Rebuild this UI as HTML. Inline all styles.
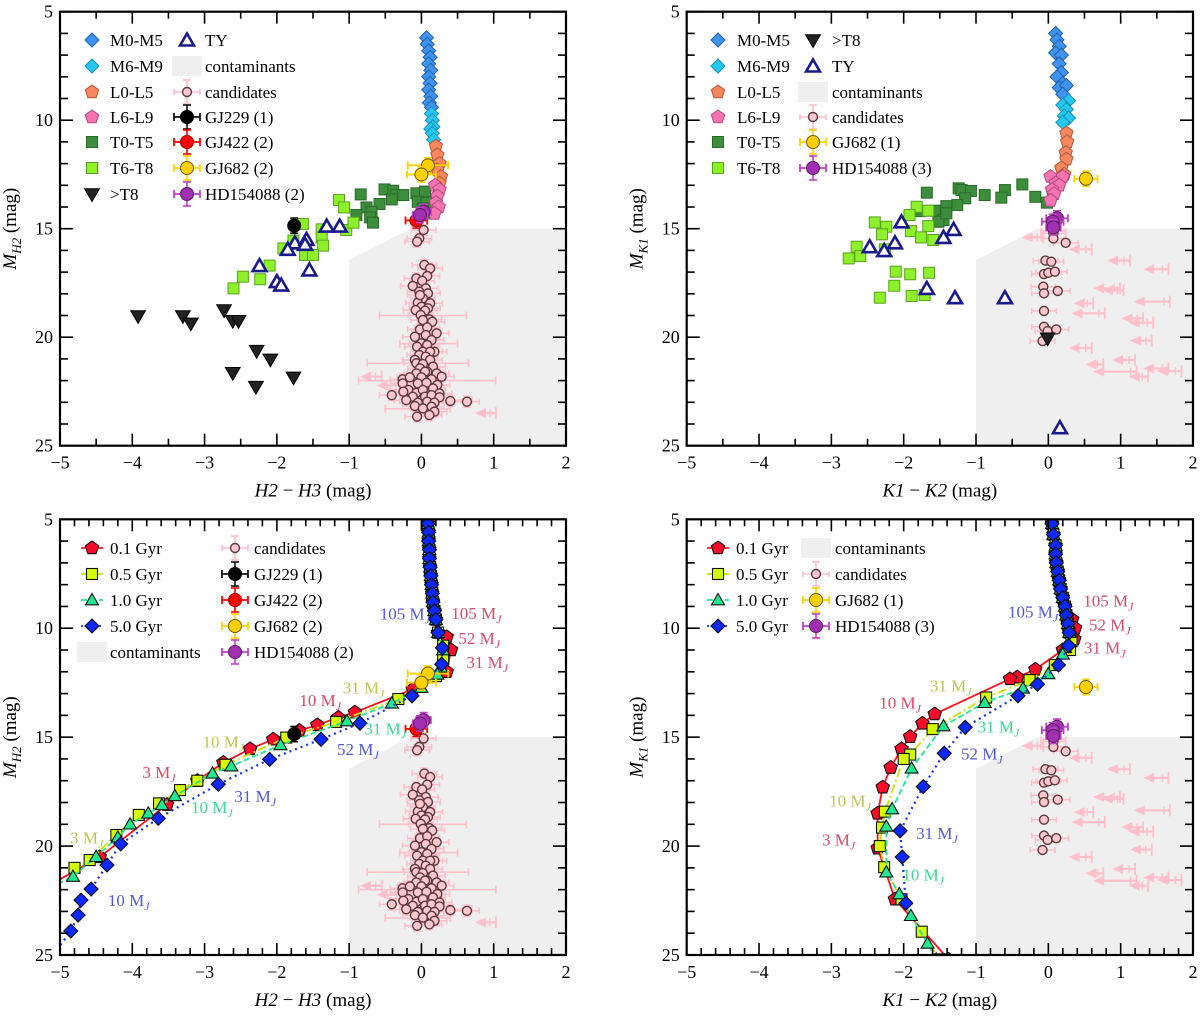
<!DOCTYPE html>
<html><head><meta charset="utf-8"><style>
html,body{margin:0;padding:0;background:#fff}
svg, svg text{font-family:"Liberation Serif","DejaVu Serif",serif}
</style></head><body>
<svg id="fig" width="1200" height="1013" viewBox="0 0 1200 1013" xmlns="http://www.w3.org/2000/svg" font-family="Liberation Serif, DejaVu Serif, serif"></svg>
<script>
// ---------- data (mag units) ----------
const contamX=[-1,-1,-0.15,2,2];
const contamY=[25,16.45,15,15,25];
// top-left (H2-H3)
const tlM05=[[0.07,6.2],[0.08,6.5],[0.1,6.8],[0.12,7.1],[0.1,7.4],[0.13,7.7],[0.1,8.0],[0.12,8.3],[0.1,8.6],[0.13,8.9],[0.11,9.2],[0.14,9.4]];
const tlM69=[[0.14,9.7],[0.15,10.0],[0.16,10.3],[0.13,10.4],[0.15,10.6],[0.17,10.9]];
const tlL05=[[0.2,11.2],[0.22,11.6],[0.25,12.0],[0.22,12.3],[0.27,12.6],[0.25,12.9]];
const tlL69=[[0.19,13.0],[0.25,13.2],[0.22,13.5],[0.2,13.8],[0.24,14.0],[0.18,14.3]];
const tlT05=[[-0.84,13.42],[-0.51,13.19],[-0.39,13.25],[-0.35,13.45],[-0.25,13.45],[-0.41,13.65],[-0.07,13.37],[0.05,13.29],[-0.05,13.76],[0.07,13.8],[-0.58,13.86],[-0.76,14.02],[-0.69,14.22],[-0.9,14.37],[-0.71,14.48],[-0.67,14.72],[0.15,14.29],[0.02,14.06]];
const tlT68=[[-1.14,13.68],[-1.07,14.02],[-1.64,14.78],[-1.38,15.03],[-1.04,15.06],[-0.94,14.72],[-1.38,15.4],[-1.36,15.78],[-1.91,15.91],[-1.61,16.21],[-1.5,16.21],[-2.1,16.7],[-2.47,17.21],[-2.23,17.33],[-2.6,17.75],[-1.77,15.55]];
const tlGT8=[[-3.92,19.02],[-3.3,19.02],[-3.19,19.36],[-2.73,18.75],[-2.61,19.24],[-2.53,19.24],[-2.28,20.62],[-2.09,21.02],[-2.61,21.64],[-2.29,22.28],[-1.77,21.85]];
const tlTY=[[-1.31,14.88],[-1.13,14.88],[-1.75,15.65],[-1.59,15.49],[-1.61,15.72],[-1.85,15.95],[-2.24,16.7],[-2.0,17.44],[-1.94,17.6],[-1.55,16.9]];
const tlCand=[[0.03,15.06],[-0.03,15.45],[-0.06,15.6],[0.04,16.67],[0.12,16.83],[0.08,17.18],[-0.07,17.29],[0.01,17.4],[-0.12,17.64],[0.06,17.75],[-0.03,17.9],[0.09,17.98],[0.02,18.21],[0.12,18.44],[-0.05,18.41],[-0.02,18.06],[0,18.6],[0.09,18.67],[-0.08,18.75],[0.05,18.78],[-0.01,18.98],[0.11,19.18],[0.02,19.21],[0.15,19.29],[-0.02,19.64],[0.08,19.55],[0.21,19.82],[-0.09,19.98],[0.06,19.9],[0.14,20.13],[0,20.28],[-0.06,20.44],[0.08,20.36],[0.18,20.67],[0.02,20.67],[0.12,20.67],[-0.03,20.82],[0.06,20.9],[-0.09,21.05],[0.12,21.05],[-0.07,21.2],[0.02,21.24],[-0.02,21.44],[0.16,21.36],[-0.07,21.67],[0.08,21.59],[0.05,21.59],[0.21,21.67],[-0.26,21.94],[-0.16,21.85],[0,21.85],[0.14,21.94],[0.28,21.82],[-0.26,22.13],[-0.05,22.13],[0.07,22.1],[0.22,22.2],[-0.41,22.67],[-0.18,22.43],[-0.07,22.56],[0.02,22.43],[0.16,22.36],[0.25,22.59],[-0.25,22.51],[-0.12,22.74],[0.05,22.74],[0.14,22.67],[0.25,22.77],[-0.21,22.9],[-0.05,23.02],[0.08,22.97],[0.18,23.02],[0.4,22.94],[0.63,22.97],[-0.09,23.17],[0.02,23.28],[0.14,23.2],[0.18,23.43],[-0.06,23.66],[0.11,23.59]];
const tlWideErr=[[0.02,19.0,0.6],[-0.05,21.2,0.7],[0.08,22.0,0.95],[0.1,20.3,0.4],[0.2,22.9,0.5],[-0.05,23.3,0.45]];
const tlArrows=[[-0.85,-0.55,21.82],[-0.62,-0.35,22.23],[0.74,1.03,23.5]];
const tlGJ229=[[-1.76,14.86,0.07]];
const tlGJ422=[[-0.07,14.62,0.15]];
const tlGJ682=[[0.09,12.08,0.28],[0,12.5,0.2]];
const tlHD=[[0.03,14.22,0.1],[-0.02,14.37,0.1]];
// top-right (K1-K2)
const trM05=[[0.1,6.0],[0.12,6.3],[0.15,6.6],[0.1,6.9],[0.18,7.0],[0.15,7.4],[0.18,7.8],[0.12,8.0],[0.2,8.3],[0.15,8.5],[0.25,8.4],[0.2,8.8]];
const trM69=[[0.28,9.1],[0.2,9.3],[0.25,9.5],[0.22,9.8],[0.28,9.9],[0.2,10.1]];
const trL05=[[0.25,10.6],[0.26,11.0],[0.24,11.5],[0.25,11.8],[0.18,12.2],[0.22,12.5]];
const trL69=[[0.03,12.6],[0.2,12.6],[0.1,12.9],[0.15,13.0],[0.05,13.2],[0.08,13.4],[0.03,13.7]];
const trT05=[[-1.68,13.34],[-1.24,13.14],[-1.2,13.22],[-1.07,13.26],[-0.88,13.45],[-0.6,13.22],[-0.65,13.57],[-0.36,12.96],[-0.18,13.53],[-0.02,13.8],[-1.15,13.6],[-1.26,13.91],[-1.41,13.96],[-1.57,14.17],[-1.77,14.19],[-1.45,14.6],[-1.52,14.68],[-1.41,14.29]];
const trT68=[[-1.82,13.99],[-1.66,14.17],[-1.92,14.37],[-2.4,14.71],[-2.24,14.91],[-2.3,15.26],[-1.9,15.11],[-1.76,15.4],[-1.66,14.88],[-1.59,15.52],[-2.65,15.83],[-2.6,16.26],[-2.76,16.37],[-2.26,15.95],[-2.11,16.98],[-1.91,17.1],[-1.65,17.03],[-2.13,17.63],[-2.33,18.18],[-1.89,18.1],[-1.71,18.06]];
const trGT8=[[-0.01,20.05]];
const trTY=[[-2.03,14.68],[-2.47,15.83],[-2.27,16.01],[-2.12,15.65],[-1.45,15.4],[-1.31,15.03],[-1.68,17.75],[-1.29,18.18],[-0.6,18.18],[0.16,24.17]];
const trCand=[[0.07,15.1],[0.07,15.21],[0.07,15.45],[0.24,15.65],[-0.04,16.47],[0.04,16.52],[-0.06,17.09],[0,17.03],[0.09,16.98],[-0.07,17.67],[-0.06,17.98],[0.13,17.87],[-0.06,18.79],[-0.06,19.52],[-0.01,19.72],[0.11,19.64],[-0.08,20.18]];
const trArrows=[[-0.37,-0.07,15.4],[0.28,0.6,15.95],[0.81,1.13,16.47],[1.31,1.66,16.87],[0.62,0.99,17.75],[0.74,1.04,17.83],[0.35,0.62,18.44],[0.32,0.78,18.9],[1.18,1.68,18.36],[1.01,1.31,19.13],[1.11,1.45,19.33],[1.13,1.43,20.16],[0.28,0.6,20.5],[0.51,0.76,21.25],[0.88,1.2,21.05],[0.62,1.22,21.59],[1.11,1.38,21.82],[1.31,1.66,21.44],[1.5,1.84,21.56]];
const trGJ682=[[0.52,12.7,0.16]];
const trHD=[[0.12,14.52,0.15],[0.06,14.68,0.15],[0.07,14.94,0.1]];
// bottom-left models (H2-H3)
const blUpper=[[0.09,5.2],[0.1,5.6],[0.1,6.0],[0.11,6.4],[0.11,6.8],[0.12,7.2],[0.13,7.6],[0.14,8.0],[0.15,8.4],[0.16,8.8],[0.18,9.2],[0.2,9.6],[0.23,10.2]];
const bl01=[[0.35,10.4],[0.41,11.0],[0.35,12.0],[-0.12,12.8],[-0.92,13.86],[-1.15,14.1],[-1.44,14.44],[-1.69,14.7],[-2.05,15.1],[-2.37,15.54],[-2.74,16.17],[-3.1,17.0],[-3.52,18.1],[-4.45,20.5],[-5.2,21.9]];
const bl05=[[0.3,10.8],[0.3,11.4],[0.2,12.2],[-0.32,13.25],[-1.18,14.3],[-1.87,15.02],[-2.71,16.27],[-3.1,17.0],[-3.34,17.43],[-3.63,18.04],[-3.91,18.57],[-4.22,19.49],[-4.59,20.64],[-4.8,21.0]];
const bl10=[[0.3,11.0],[0.27,11.8],[0.22,12.12],[0,12.73],[-0.41,13.45],[-1.03,14.26],[-1.95,15.36],[-2.63,16.33],[-2.89,16.66],[-3.41,17.7],[-3.59,18.11],[-3.78,18.5],[-4.03,19.0],[-4.2,19.6],[-4.5,20.49],[-4.82,21.4],[-5.2,22.0]];
const bl50=[[0.29,10.9],[0.28,11.65],[-0.13,13.1],[-0.85,14.36],[-1.39,15.1],[-2.1,16.02],[-2.81,17.16],[-3.64,18.73],[-4.16,19.9],[-4.35,20.87],[-4.57,21.97],[-4.71,22.48],[-4.75,23.17],[-4.85,23.9],[-5.1,25.0]];
const blLabels=[["105",-0.23,9.33,"b"],["105",0.76,9.3,"r"],["52",0.8,10.46,"r"],["31",0.91,11.55,"r"],["31",-0.8,12.73,"y"],["10",-1.4,13.3,"r"],["31",-0.5,14.6,"g"],["52",-0.88,15.55,"b"],["10",-2.74,15.2,"y"],["3",-3.63,16.6,"r"],["31",-2.3,17.7,"b"],["10",-2.9,18.2,"g"],["3",-4.63,19.6,"y"],["10",-4.05,22.47,"b"]];
// bottom-right models (K1-K2)
const brUpper=[[0.05,5.2],[0.07,5.7],[0.1,6.2],[0.1,6.6],[0.11,7.0],[0.13,7.4],[0.15,7.8],[0.17,8.2],[0.2,8.6],[0.23,9.0],[0.25,9.4],[0.27,9.8],[0.29,10.2]];
const br01=[[0.33,9.6],[0.37,10.0],[0.36,10.5],[0.2,11.0],[-0.18,11.89],[-0.43,12.25],[-0.53,12.33],[-1.57,13.94],[-1.74,14.37],[-1.91,14.98],[-2.03,15.54],[-2.18,16.4],[-2.29,17.3],[-2.36,18.5],[-2.36,20.1],[-2.12,22.44],[-1.38,25.2]];
const br05=[[0.32,10.6],[0.3,11.0],[0.09,11.69],[-0.26,12.38],[-0.86,13.18],[-1.6,14.63],[-1.91,15.8],[-2.0,16.0],[-2.26,18.42],[-2.3,19.15],[-2.33,20.0],[-2.27,20.97],[-2.03,22.44],[-1.75,23.93],[-1.5,25.2]];
const br10=[[0.23,10.9],[0.2,11.2],[0,12.1],[-0.35,12.76],[-0.88,13.42],[-1.45,14.49],[-1.89,16.43],[-2.16,18.3],[-2.24,19.1],[-2.24,21.2],[-2.06,22.2],[-1.9,23.2],[-1.67,24.47],[-1.55,25.2]];
const br50=[[0.28,10.8],[0.14,11.69],[-0.15,12.57],[-0.42,13.1],[-1.15,14.55],[-1.44,15.74],[-1.73,17.27],[-2.05,19.3],[-2.02,20.5],[-1.97,22.62]];
const brLabels=[["105",0.83,8.73,"r"],["105",-0.21,9.24,"b"],["52",0.85,9.82,"r"],["31",0.78,10.89,"r"],["31",-1.35,12.62,"y"],["10",-2.05,13.4,"r"],["31",-0.69,14.5,"g"],["52",-0.92,15.75,"b"],["10",-2.74,17.9,"y"],["31",-1.54,19.4,"b"],["3",-2.9,19.7,"r"],["10",-1.73,21.3,"g"]];
const xTicks=[-5,-4,-3,-2,-1,0,1,2];
const yTicks=[5,10,15,20,25];

// ---------- layout ----------
const NS="http://www.w3.org/2000/svg";
const FONT='"Liberation Serif","DejaVu Serif",serif';
const svg=document.getElementById('fig');
const P={tl:{x0:60,x1:566,y0:11.7,y1:445.7,n:'tl'},tr:{x0:686.7,x1:1193,y0:11.7,y1:445.7,n:'tr'},bl:{x0:60,x1:566,y0:519.3,y1:955,n:'bl'},br:{x0:686.7,x1:1193,y0:519.3,y1:955,n:'br'}};
function sx(p,v){return p.x0+(v+5)/7*(p.x1-p.x0);}
function sy(p,v){return p.y0+(v-5)/20*(p.y1-p.y0);}
function mk(tag,a,parent){const e=document.createElementNS(NS,tag);for(const k in a)e.setAttribute(k,a[k]);if(tag==='text')e.style.fontFamily=FONT;(parent||svg).appendChild(e);return e;}
function poly(cx,cy,r,n,rot){const pts=[];for(let i=0;i<n;i++){const a=rot+i*2*Math.PI/n;pts.push((cx+r*Math.cos(a)).toFixed(1)+','+(cy+r*Math.sin(a)).toFixed(1));}return pts.join(' ');}
function marker(g,shape,cx,cy,fill,stroke,name,sw){
  let e;
  if(shape==='diamond')e=mk('polygon',{points:poly(cx,cy,7,4,-Math.PI/2),fill:fill,stroke:stroke,'stroke-width':sw||1},g);
  else if(shape==='pent')e=mk('polygon',{points:poly(cx,cy,7,5,-Math.PI/2),fill:fill,stroke:stroke,'stroke-width':sw||1},g);
  else if(shape==='square')e=mk('rect',{x:cx-5.5,y:cy-5.5,width:11,height:11,fill:fill,stroke:stroke,'stroke-width':sw||1},g);
  else if(shape==='tridown')e=mk('polygon',{points:poly(cx,cy-1,8.5,3,Math.PI/2),fill:fill,stroke:stroke,'stroke-width':sw||1},g);
  else if(shape==='triup')e=mk('polygon',{points:poly(cx,cy+1,7.5,3,-Math.PI/2),fill:fill,stroke:stroke,'stroke-width':sw||1},g);
  else if(shape==='ty')e=mk('polygon',{points:poly(cx,cy+1.5,8,3,-Math.PI/2),fill:'#fff',stroke:'#1a1a8c','stroke-width':2.6},g);
  else if(shape==='cand')e=mk('circle',{cx:cx,cy:cy,r:4.5,fill:'#fcc7cf',stroke:'#5a3a3a','stroke-width':1.4},g);
  else e=mk('circle',{cx:cx,cy:cy,r:6.5,fill:fill,stroke:stroke,'stroke-width':sw||1},g);
  
  
  return e;
}
function errbar(g,x1,x2,y,col,h,w){
  mk('line',{x1:x1,x2:x2,y1:y,y2:y,stroke:col,'stroke-width':w||1.6},g);
  mk('line',{x1:x1,x2:x1,y1:y-h,y2:y+h,stroke:col,'stroke-width':w||1.6},g);
  mk('line',{x1:x2,x2:x2,y1:y-h,y2:y+h,stroke:col,'stroke-width':w||1.6},g);
}
function vbar(g,x,y1,y2,col){
  mk('line',{x1:x,x2:x,y1:y1,y2:y2,stroke:col,'stroke-width':1.6},g);
  mk('line',{x1:x-4,x2:x+4,y1:y1,y2:y1,stroke:col,'stroke-width':1.6},g);
  mk('line',{x1:x-4,x2:x+4,y1:y2,y2:y2,stroke:col,'stroke-width':1.6},g);
}
function panelGroup(p){
  const cp=mk('clipPath',{id:'clip-'+p.n});
  mk('rect',{x:p.x0,y:p.y0,width:p.x1-p.x0,height:p.y1-p.y0},cp);
  const g=mk('g',{'clip-path':'url(#clip-'+p.n+')'});
  
  
  const pts=contamX.map((x,i)=>sx(p,x)+','+sy(p,contamY[i])).join(' ');
  const c=mk('polygon',{points:pts,fill:'#efefef'},g);
  
  
  return g;
}
function drawCands(p,g,cands,wide,arrows,k2){
  cands.forEach(d=>errbar(g,sx(p,d[0]-0.17),sx(p,d[0]+0.17),sy(p,d[1]),'#ffc0cb',3));
  if(!k2)cands.forEach(d=>vbar(g,sx(p,d[0]),sy(p,d[1]-0.25),sy(p,d[1]+0.25),'#ffc0cb'));
  wide.forEach(d=>errbar(g,sx(p,d[0]-d[2]),sx(p,d[0]+d[2]),sy(p,d[1]),'#ffc0cb',4));
  arrows.forEach(d=>{
    const y=sy(p,d[2]),xh=sx(p,d[0]),xt=sx(p,d[1]);
    const a=mk('g',{},g);
    
    
    mk('line',{x1:xh+6,x2:xt,y1:y,y2:y,stroke:'#ffc0cb','stroke-width':2.2},a);
    mk('line',{x1:xt,x2:xt,y1:y-6,y2:y+6,stroke:'#ffc0cb','stroke-width':1.8},a);
    mk('line',{x1:xt-6,x2:xt-6,y1:y-4,y2:y+4,stroke:'#ffc0cb','stroke-width':1.5},a);
    mk('polygon',{points:`${xh},${y} ${xh+11},${y-5} ${xh+11},${y+5}`,fill:'#ffc0cb'},a);
  });
  cands.forEach(d=>marker(g,'cand',sx(p,d[0]),sy(p,d[1]),'','','candidate-point'));
}
function drawRef(p,g,arr,fill,stroke,col,name){
  arr.forEach(d=>{
    errbar(g,sx(p,d[0]-d[2]),sx(p,d[0]+d[2]),sy(p,d[1]),col,4,1.8);
    vbar(g,sx(p,d[0]),sy(p,d[1]-0.35),sy(p,d[1]+0.35),col);
    marker(g,'circle',sx(p,d[0]),sy(p,d[1]),fill,stroke,name);
  });
}
function drawSet(p,g,arr,shape,fill,stroke,name){arr.forEach(d=>marker(g,shape,sx(p,d[0]),sy(p,d[1]),fill,stroke,name));}
function axes(p,xlab,ylab,minorStep){
  const fr=mk('rect',{x:p.x0,y:p.y0,width:p.x1-p.x0,height:p.y1-p.y0,fill:'none',stroke:'#000','stroke-width':2.2});
  
  
  const g=mk('g',{stroke:'#000','stroke-width':1.6});
  
  
  for(let i=0;i<=Math.round(7/minorStep);i++){
    const v=-5+i*minorStep,x=sx(p,v),maj=Math.abs(v-Math.round(v))<1e-6,L=maj?12:7;
    mk('line',{x1:x,x2:x,y1:p.y1,y2:p.y1-L},g);mk('line',{x1:x,x2:x,y1:p.y0,y2:p.y0+L},g);
  }
  for(let v=5;v<=25;v++){
    const y=sy(p,v),L=(v%5===0)?13:8;
    mk('line',{x1:p.x0,x2:p.x0+L,y1:y,y2:y},g);mk('line',{x1:p.x1,x2:p.x1-L,y1:y,y2:y},g);
  }
  xTicks.forEach(v=>{
    const t=mk('text',{x:sx(p,v),y:p.y1+23,'text-anchor':'middle','font-size':18});
    t.textContent=v<0?'\u2212'+(-v):String(v);
    
    
  });
  yTicks.forEach(v=>{
    const t=mk('text',{x:p.x0-7,y:sy(p,v)+6,'text-anchor':'end','font-size':18});
    t.textContent=String(v);
    
    
  });
  const xl=mk('text',{x:(p.x0+p.x1)/2,y:p.y1+51,'text-anchor':'middle','font-size':19});
  xl.innerHTML=`<tspan font-style="italic">${xlab[0]}</tspan> \u2212 <tspan font-style="italic">${xlab[1]}</tspan> (mag)`;
  
  
  const cy=(p.y0+p.y1)/2,cx=p.x0-44;
  const yl=mk('text',{x:cx,y:cy,'text-anchor':'middle','font-size':19,transform:`rotate(-90 ${cx} ${cy})`});
  yl.innerHTML=`<tspan font-style="italic">M</tspan><tspan font-style="italic" font-size="13" dy="5">${ylab}</tspan><tspan dy="-5"> (mag)</tspan>`;
  
  
}
function legendText(x,y,s){
  const t=mk('text',{x:x,y:y+6,'font-size':17});
  t.textContent=s;
  
  
}
function legendRef(lg,x,y,fill,stroke,col){
  errbar(lg,x-13,x+13,y,col,4,1.8);vbar(lg,x,y-12,y+12,col);marker(lg,'circle',x,y,fill,stroke,'legend-marker');
}
function legendCand(lg,x,y){errbar(lg,x-13,x+13,y,'#ffc0cb',3);vbar(lg,x,y-12,y+12,'#ffc0cb');marker(lg,'cand',x,y,'','','legend-marker');}
function legendContam(lg,x,y){const r=mk('rect',{x:x-15,y:y-10,width:30,height:20,fill:'#efefef'},lg);}

const C={m05:['#3f93ee','#2060a8'],m69:['#25c8f2','#1a8fb0'],l05:['#f6875f','#b05a3a'],l69:['#f674b2','#b04a80'],t05:['#3c8d3c','#2a6a2a'],t68:['#8cf02a','#5aa020']};
const LC={r:'#d84a68',y:'#b8c850',g:'#3cd890',b:'#4f58e0'};

// ---------- top panels ----------
function topPanel(p,d,k2){
  const g=panelGroup(p);
  drawCands(p,g,d.cand,d.wide,d.arrows,k2);
  drawSet(p,g,d.t05,'square',C.t05[0],C.t05[1],'t0-t5-point');
  drawSet(p,g,d.t68,'square',C.t68[0],C.t68[1],'t6-t8-point');
  drawSet(p,g,d.m05,'diamond',C.m05[0],C.m05[1],'m0-m5-point');
  drawSet(p,g,d.m69,'diamond',C.m69[0],C.m69[1],'m6-m9-point');
  drawSet(p,g,d.l05,'pent',C.l05[0],C.l05[1],'l0-l5-point');
  drawSet(p,g,d.l69,'pent',C.l69[0],C.l69[1],'l6-l9-point');
  drawSet(p,g,d.gt8,'tridown','#222','#000','gt-t8-point');
  drawSet(p,g,d.ty,'ty','','','ty-point');
  if(d.gj229)drawRef(p,g,d.gj229,'#000','#000','#111','gj229-point');
  if(d.gj422)drawRef(p,g,d.gj422,'#f00','#900','#f00','gj422-point');
  drawRef(p,g,d.gj682,'#ffd000','#6a5a00','#ffd000','gj682-point');
  drawRef(p,g,d.hd,'#a030b0','#5a1a60','#c040c8','hd154088-point');
}
topPanel(P.tl,{cand:tlCand,wide:tlWideErr,arrows:tlArrows,t05:tlT05,t68:tlT68,m05:tlM05,m69:tlM69,l05:tlL05,l69:tlL69,gt8:tlGT8,ty:tlTY,gj229:tlGJ229,gj422:tlGJ422,gj682:tlGJ682,hd:tlHD},false);
topPanel(P.tr,{cand:trCand,wide:[],arrows:trArrows,t05:trT05,t68:trT68,m05:trM05,m69:trM69,l05:trL05,l69:trL69,gt8:trGT8,ty:trTY,gj682:trGJ682,hd:trHD},true);

// ---------- bottom panels ----------
function modelSeries(p,g,upper,pts,shape,fill,dash,col,name,sw){
  const all=upper.concat(pts);
  const path=mk('polyline',{points:all.map(d=>sx(p,d[0])+','+sy(p,d[1])).join(' '),fill:'none',stroke:col,'stroke-width':sw,'stroke-dasharray':dash},g);
  
  
  all.forEach(d=>marker(g,shape,sx(p,d[0]),sy(p,d[1]),fill,'#111',name+'-point',1.1));
}
function massLabels(p,g,labels){
  labels.forEach(l=>{
    const t=mk('text',{x:sx(p,l[1]),y:sy(p,l[2])+6,'text-anchor':'middle','font-size':17,fill:LC[l[3]]},g);
    t.innerHTML=l[0]+' M<tspan font-style="italic" font-size="12" dy="4">J</tspan>';
    
    
  });
}
function bottomPanel(p,m,k2){
  const g=panelGroup(p);
  drawCands(p,g,m.cand,m.wide,m.arrows,k2);
  modelSeries(p,g,m.upper,m.s01,'pent','#ff0a2a','','#ff1020','model-0.1gyr',1.8);
  modelSeries(p,g,m.upper,m.s05,'square','#d4ff00','9,3,2,3','#c8e000','model-0.5gyr',1.8);
  modelSeries(p,g,m.upper,m.s10,'triup','#20e890','6,3','#20e890','model-1.0gyr',1.8);
  modelSeries(p,g,m.upper,m.s50,'diamond','#0a28ff','2,4','#1030ff','model-5.0gyr',2.2);
  if(m.gj229)drawRef(p,g,m.gj229,'#000','#000','#111','gj229-point');
  if(m.gj422)drawRef(p,g,m.gj422,'#f00','#900','#f00','gj422-point');
  drawRef(p,g,m.gj682,'#ffd000','#6a5a00','#ffd000','gj682-point');
  drawRef(p,g,m.hd,'#a030b0','#5a1a60','#c040c8','hd154088-point');
  massLabels(p,g,m.labels);
}
bottomPanel(P.bl,{cand:tlCand,wide:tlWideErr,arrows:tlArrows,upper:blUpper,s01:bl01,s05:bl05,s10:bl10,s50:bl50,gj229:tlGJ229,gj422:tlGJ422,gj682:tlGJ682,hd:tlHD,labels:blLabels},false);
bottomPanel(P.br,{cand:trCand,wide:[],arrows:trArrows,upper:brUpper,s01:br01,s05:br05,s10:br10,s50:br50,gj682:trGJ682,hd:trHD,labels:brLabels},true);

axes(P.tl,['H2','H3'],'H2',0.5);
axes(P.tr,['K1','K2'],'K1',0.5);
axes(P.bl,['H2','H3'],'H2',0.2);
axes(P.br,['K1','K2'],'K1',0.2);

// ---------- legends ----------
const rows=[40,66,92,117,142,168,194];
(function(){
  const lg=mk('g',{});
  const a=92,b=187;
  marker(lg,'diamond',a,rows[0],C.m05[0],C.m05[1],'legend-marker');legendText(110,rows[0],'M0-M5');
  marker(lg,'diamond',a,rows[1],C.m69[0],C.m69[1],'legend-marker');legendText(110,rows[1],'M6-M9');
  marker(lg,'pent',a,rows[2],C.l05[0],C.l05[1],'legend-marker');legendText(110,rows[2],'L0-L5');
  marker(lg,'pent',a,rows[3],C.l69[0],C.l69[1],'legend-marker');legendText(110,rows[3],'L6-L9');
  marker(lg,'square',a,rows[4],C.t05[0],C.t05[1],'legend-marker');legendText(110,rows[4],'T0-T5');
  marker(lg,'square',a,rows[5],C.t68[0],C.t68[1],'legend-marker');legendText(110,rows[5],'T6-T8');
  marker(lg,'tridown',a,rows[6],'#222','#000','legend-marker');legendText(110,rows[6],'>T8');
  marker(lg,'ty',b,rows[0],'','','legend-marker');legendText(205,rows[0],'TY');
  legendContam(lg,b,rows[1]);legendText(205,rows[1],'contaminants');
  legendCand(lg,b,rows[2]);legendText(205,rows[2],'candidates');
  legendRef(lg,b,rows[3],'#000','#000','#111');legendText(205,rows[3],'GJ229 (1)');
  legendRef(lg,b,rows[4],'#f00','#900','#f00');legendText(205,rows[4],'GJ422 (2)');
  legendRef(lg,b,rows[5],'#ffd000','#6a5a00','#ffd000');legendText(205,rows[5],'GJ682 (2)');
  legendRef(lg,b,rows[6],'#a030b0','#5a1a60','#c040c8');legendText(205,rows[6],'HD154088 (2)');
})();
(function(){
  const lg=mk('g',{});
  const a=718,b=813,ta=737,tb=832;
  marker(lg,'diamond',a,rows[0],C.m05[0],C.m05[1],'legend-marker');legendText(ta,rows[0],'M0-M5');
  marker(lg,'diamond',a,rows[1],C.m69[0],C.m69[1],'legend-marker');legendText(ta,rows[1],'M6-M9');
  marker(lg,'pent',a,rows[2],C.l05[0],C.l05[1],'legend-marker');legendText(ta,rows[2],'L0-L5');
  marker(lg,'pent',a,rows[3],C.l69[0],C.l69[1],'legend-marker');legendText(ta,rows[3],'L6-L9');
  marker(lg,'square',a,rows[4],C.t05[0],C.t05[1],'legend-marker');legendText(ta,rows[4],'T0-T5');
  marker(lg,'square',a,rows[5],C.t68[0],C.t68[1],'legend-marker');legendText(ta,rows[5],'T6-T8');
  marker(lg,'tridown',b,rows[0],'#222','#000','legend-marker');legendText(tb,rows[0],'>T8');
  marker(lg,'ty',b,rows[1],'','','legend-marker');legendText(tb,rows[1],'TY');
  legendContam(lg,b,rows[2]);legendText(tb,rows[2],'contaminants');
  legendCand(lg,b,rows[3]);legendText(tb,rows[3],'candidates');
  legendRef(lg,b,rows[4],'#ffd000','#6a5a00','#ffd000');legendText(tb,rows[4],'GJ682 (1)');
  legendRef(lg,b,rows[5],'#a030b0','#5a1a60','#c040c8');legendText(tb,rows[5],'HD154088 (3)');
})();
function modelLegend(lg,x,y){
  const defs=[['pent','#ff0a2a','','#ff1020','0.1 Gyr'],['square','#d4ff00','9,3,2,3','#c8e000','0.5 Gyr'],['triup','#20e890','6,3','#20e890','1.0 Gyr'],['diamond','#0a28ff','2,4','#1030ff','5.0 Gyr']];
  defs.forEach((d,i)=>{
    const yy=y[i];
    mk('line',{x1:x-11,x2:x+11,y1:yy,y2:yy,stroke:d[3],'stroke-width':1.8,'stroke-dasharray':d[2]},lg);
    marker(lg,d[0],x,yy,d[1],'#111','legend-marker',1.1);
    legendText(x+18,yy,d[4]);
  });
}
const brow=[548,574,600,626,652];
(function(){
  const lg=mk('g',{});
  modelLegend(lg,92,brow);
  legendContam(lg,92,brow[4]);legendText(110,brow[4],'contaminants');
  const b=235,tb=254;
  legendCand(lg,b,brow[0]);legendText(tb,brow[0],'candidates');
  legendRef(lg,b,brow[1],'#000','#000','#111');legendText(tb,brow[1],'GJ229 (1)');
  legendRef(lg,b,brow[2],'#f00','#900','#f00');legendText(tb,brow[2],'GJ422 (2)');
  legendRef(lg,b,brow[3],'#ffd000','#6a5a00','#ffd000');legendText(tb,brow[3],'GJ682 (2)');
  legendRef(lg,b,brow[4],'#a030b0','#5a1a60','#c040c8');legendText(tb,brow[4],'HD154088 (2)');
})();
(function(){
  const lg=mk('g',{});
  modelLegend(lg,718,brow);
  const b=816,tb=835;
  legendContam(lg,b,brow[0]);legendText(tb,brow[0],'contaminants');
  legendCand(lg,b,brow[1]);legendText(tb,brow[1],'candidates');
  legendRef(lg,b,brow[2],'#ffd000','#6a5a00','#ffd000');legendText(tb,brow[2],'GJ682 (1)');
  legendRef(lg,b,brow[3],'#a030b0','#5a1a60','#c040c8');legendText(tb,brow[3],'HD154088 (3)');
})();
</script>
</body></html>
